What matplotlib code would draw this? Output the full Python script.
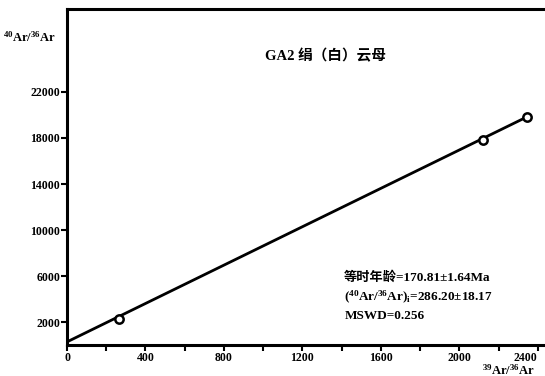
import matplotlib.pyplot as plt
import numpy as np

# isochron data
x_pts = [266, 2120, 2345]
y_pts = [2260, 17830, 19830]
intercept = 286.20
x_line = [0, 2345]

fnt = ['Liberation Serif', 'Noto Sans CJK SC', 'DejaVu Sans']
plt.rcParams['font.family'] = fnt
plt.rcParams['mathtext.fontset'] = 'custom'
plt.rcParams['mathtext.rm'] = 'Liberation Serif:bold'
plt.rcParams['mathtext.it'] = 'Liberation Serif:bold'

fig = plt.figure(figsize=(5.45, 3.76), dpi=100)
ax = fig.add_axes([0.123, 0.082, 0.877, 0.894])

slope = (y_pts[-1] - intercept) / x_pts[-1]
xl = np.array(x_line)
ax.plot(xl, intercept + slope * xl, color='black', lw=2.0)
ax.plot(x_pts, y_pts, 'o', ms=6, mfc='white', mec='black', mew=1.8)

ax.set_xlim(0, 2437)
ax.set_ylim(0, 29200)
ax.set_xticks(np.arange(0, 2401, 200))
ax.set_xticklabels([str(v) if v % 400 == 0 else '' for v in range(0, 2401, 200)])
ax.set_yticks(np.arange(2000, 22001, 4000))
for s in ['left', 'bottom', 'top']:
    ax.spines[s].set_linewidth(2.2)
ax.spines['right'].set_visible(False)
ax.tick_params(direction='out', length=4, width=1.5, labelsize=8.5, pad=1)
for lab in ax.get_xticklabels() + ax.get_yticklabels():
    lab.set_fontweight('bold')
ax.get_xticklabels()[-1].set_horizontalalignment('right')

fig.text(0.005, 0.89, r'$^{40}$Ar/$^{36}$Ar', fontsize=9, fontweight='bold')
fig.text(0.885, 0.004, r'$^{39}$Ar/$^{36}$Ar', fontsize=9, fontweight='bold')

ax.text(0.414, 0.86, 'GA2 绢（白）云母', transform=ax.transAxes, fontsize=10.5,
        fontweight='bold', va='center')
ax.text(0.58, 0.145, '等时年龄=170.81±1.64Ma\n'
        r'($^{40}$Ar/$^{36}$Ar)$_{i}$=286.20±18.17' '\nMSWD=0.256',
        transform=ax.transAxes, fontsize=9.5, fontweight='bold',
        va='center', linespacing=1.45)

fig.savefig('out.png', dpi=100)
